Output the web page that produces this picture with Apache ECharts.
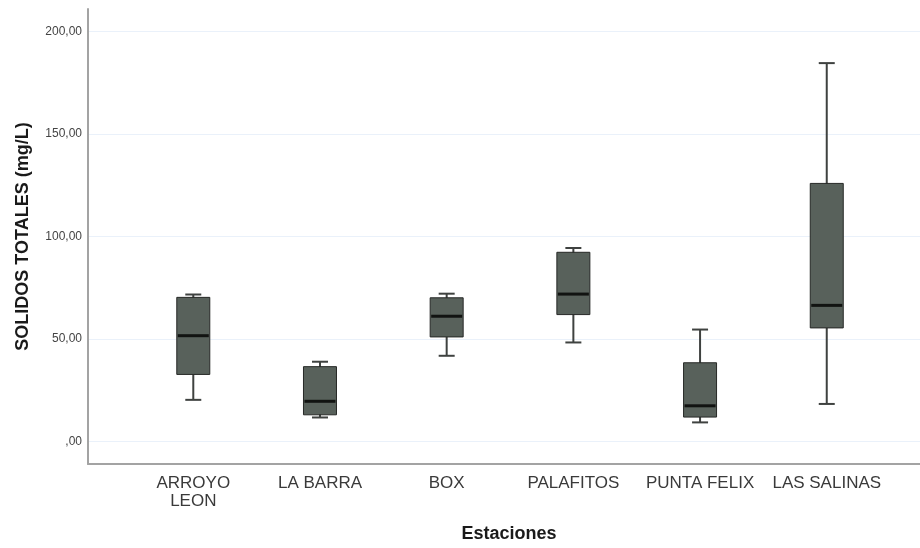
<!DOCTYPE html>
<html>
<head>
<meta charset="utf-8">
<script src="https://cdn.jsdelivr.net/npm/echarts@6/dist/echarts.min.js"></script>
<style>html,body{margin:0;padding:0;background:#fff}#c{width:920px;height:548px}</style>
</head>
<body>
<div id="c"></div>
<script>
const categories = ['ARROYO\nLEON', 'LA BARRA', 'BOX', 'PALAFITOS', 'PUNTA FELIX', 'LAS SALINAS'];
const whiskerLow  = [20.3, 11.7, 41.8, 48.3,  9.3,  18.3];
const q1          = [32.7, 13.0, 51.0, 61.9, 11.9,  55.4];
const median      = [51.6, 19.6, 61.1, 71.9, 17.4,  66.4];
const q3          = [70.3, 36.5, 70.1, 92.3, 38.4, 125.9];
const whiskerHigh = [71.7, 38.9, 72.1, 94.4, 54.6, 184.6];
const yTicks = [0, 50, 100, 150, 200];
const xTicks = categories.map((c, i) => i);

const data = categories.map((c, i) => [i, whiskerLow[i], q1[i], median[i], q3[i], whiskerHigh[i]]);

const BOX_W = 33, CAP_W = 16;
function renderItem(params, api) {
  const x = api.value(0);
  const pLo = api.coord([x, api.value(1)]);
  const pQ1 = api.coord([x, api.value(2)]);
  const pMd = api.coord([x, api.value(3)]);
  const pQ3 = api.coord([x, api.value(4)]);
  const pHi = api.coord([x, api.value(5)]);
  const cx = pMd[0];
  const wStyle = { stroke: '#3f4240', lineWidth: 2 };
  return {
    type: 'group',
    children: [
      { type: 'line', shape: { x1: cx, y1: pHi[1], x2: cx, y2: pLo[1] }, style: wStyle },
      { type: 'line', shape: { x1: cx - CAP_W / 2, y1: pHi[1], x2: cx + CAP_W / 2, y2: pHi[1] }, style: wStyle },
      { type: 'line', shape: { x1: cx - CAP_W / 2, y1: pLo[1], x2: cx + CAP_W / 2, y2: pLo[1] }, style: wStyle },
      { type: 'rect', shape: { x: cx - BOX_W / 2, y: pQ3[1], width: BOX_W, height: pQ1[1] - pQ3[1] },
        style: { fill: '#58615b', stroke: '#262826', lineWidth: 1 } },
      { type: 'line', shape: { x1: cx - BOX_W / 2 + 1, y1: pMd[1], x2: cx + BOX_W / 2 - 1, y2: pMd[1] },
        style: { stroke: '#111311', lineWidth: 3 } }
    ]
  };
}

const chart = echarts.init(document.getElementById('c'), null, { renderer: 'canvas' });
chart.setOption({
  animation: false,
  backgroundColor: '#ffffff',
  textStyle: { fontFamily: 'Liberation Sans, Arial, sans-serif' },
  grid: { left: 88, right: 0, top: 9, bottom: 82, containLabel: false },
  xAxis: {
    type: 'value',
    min: -0.831,
    max: 5.736,
    name: 'Estaciones',
    nameLocation: 'middle',
    nameGap: 61,
    nameTextStyle: { fontSize: 18, fontWeight: 'bold', color: '#1a1a1a', padding: [0, 0, 0, 10] },
    axisLine: { show: true, onZero: false, lineStyle: { color: '#a3a3a3', width: 2 } },
    axisTick: { show: false },
    splitLine: { show: false },
    axisLabel: {
      customValues: xTicks,
      formatter: v => categories[Math.round(v)] || '',
      fontSize: 17,
      color: '#3a3a3a',
      lineHeight: 18,
      margin: 10
    }
  },
  yAxis: {
    type: 'value',
    min: -11,
    max: 211,
    name: 'SOLIDOS TOTALES (mg/L)',
    nameLocation: 'middle',
    nameRotate: 90,
    nameGap: 56,
    nameTextStyle: { fontSize: 18, fontWeight: 'bold', color: '#1a1a1a' },
    axisLine: { show: true, onZero: false, lineStyle: { color: '#a3a3a3', width: 2 } },
    axisTick: { show: false, customValues: yTicks },
    splitLine: { show: true, customValues: yTicks, lineStyle: { color: '#eaf1fa', width: 1 } },
    axisLabel: {
      customValues: yTicks,
      formatter: v => (v === 0 ? ',00' : v.toFixed(2).replace('.', ',')),
      fontSize: 12,
      color: '#444',
      margin: 6
    }
  },
  series: [{
    type: 'custom',
    renderItem: renderItem,
    encode: { x: 0, y: [1, 2, 3, 4, 5] },
    data: data,
    z: 3
  }]
});
</script>
</body>
</html>
